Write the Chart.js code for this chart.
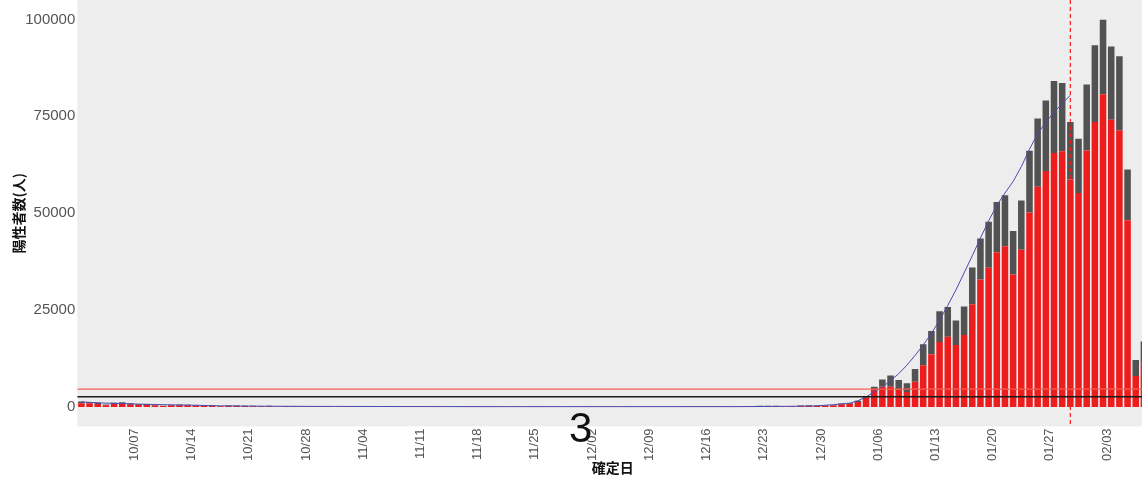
<!DOCTYPE html>
<html><head><meta charset="utf-8">
<script src="https://cdn.jsdelivr.net/npm/chart.js@4.4.1/dist/chart.umd.min.js"></script>
<style>
html,body{margin:0;padding:0;background:#fff;overflow:hidden;width:1142px;height:484px;}
#wrap{position:absolute;left:0;top:0;width:1148px;height:484px;}
#pg{position:absolute;left:569px;top:407px;font:42px/1 "Liberation Sans",Arial,sans-serif;color:#111;}
</style></head><body>
<div id="wrap"><canvas id="c"></canvas></div>
<div id="pg">3</div>
<script>
// ---- categories: months covered (month, number of days shown) ----
const MONTHS = [[10,31],[11,30],[12,31],[1,31],[2,8]];
const X_TICK_LABELS = ['10/07','10/14','10/21','10/28','11/04','11/11','11/18','11/25','12/02','12/09','12/16','12/23','12/30','01/06','01/13','01/20','01/27','02/03'];
const Y_TICKS = [0,25000,50000,75000,100000];
const X_TITLE = '確定日';
const Y_TITLE = '陽性者数(人)';

// ---- total positives per day (red + gray) ----
const TOTAL_OCT = [1400,1300,1100,650,1100,1250,1000,800,750,500,350,600,650,600,500,480,430,240,380,380,340,320,290,300,160,240,290,290,270,270,250];
const TOTAL_NOV = [90,160,220,160,200,200,160,100,140,200,190,200,180,160,80,130,170,180,160,150,150,80,120,100,120,140,140,120,80,130];
const TOTAL_DEC = [100,130,120,130,130,70,120,140,160,140,150,140,100,170,180,180,170,180,170,120,200,250,300,300,300,200,250,400,450,400,450];
const TOTAL_JAN = [500,900,1000,1600,2800,5200,7100,8100,7000,6100,9800,16200,19600,24700,25800,22300,25900,36000,43500,47800,52900,54600,45400,53300,66100,74400,79100,84100,83600,73500,69200];
const TOTAL_FEB = [83200,93300,99900,93000,90500,61300,12100,16900];

// ---- red (lower) part per day ----
const RED_OCT = [1000,950,800,480,800,900,720,580,540,360,250,430,470,430,360,350,310,170,270,270,240,230,210,220,120,170,210,210,190,190,180];
const RED_NOV = [60,110,150,110,140,140,110,70,100,140,130,140,130,110,60,90,120,130,110,100,100,60,80,70,80,100,100,80,60,90];
const RED_DEC = [70,90,80,90,90,50,80,100,110,100,100,100,70,120,130,130,120,130,120,80,140,180,210,210,210,140,180,290,320,290,330];
const RED_JAN = [380,700,800,1300,2400,4600,5300,5200,4600,3900,6500,10800,13600,16800,18100,16000,18600,26500,32900,35900,39900,41500,34200,40600,50200,56800,60900,65500,66000,58700,55200];
const RED_FEB = [66200,73500,80700,74100,71400,48200,8000,11300];

// ---- fitted curve (blue), up to 01/30 ----
const FIT_OCT = [1300,1200,1100,1000,950,900,800,750,700,650,600,550,500,500,450,400,350,300,300,250,250,230,220,210,200,190,180,170,160,160,150];
const FIT_NOV = [150,150,140,140,140,130,130,130,120,120,120,120,110,110,110,110,100,100,100,100,100,100,100,100,100,100,100,100,100,100];
const FIT_DEC = [100,100,100,100,100,100,100,100,100,100,100,100,100,100,100,100,100,100,100,100,110,120,130,140,150,170,190,220,260,300,450];
const FIT_JAN = [600,800,1000,1600,2600,3900,5200,6800,8600,10800,13300,16000,19000,22400,26200,30200,34600,39000,43600,48000,52000,55200,58200,62000,66500,70500,73500,76000,78300,80400];

// ---- reference lines ----
const HLINE_RED = 4600;
const HLINE_BLACK = 2650;
const VLINE_DATE = '01/30';

// build tables
const LABELS = [];
MONTHS.forEach(([m,n]) => { for (let d=1; d<=n; d++) LABELS.push(String(m).padStart(2,'0')+'/'+String(d).padStart(2,'0')); });
const TOTAL = [].concat(TOTAL_OCT,TOTAL_NOV,TOTAL_DEC,TOTAL_JAN,TOTAL_FEB);
const RED = [].concat(RED_OCT,RED_NOV,RED_DEC,RED_JAN,RED_FEB);
const GRAY = TOTAL.map((t,i)=>t-RED[i]);
const FIT = [].concat(FIT_OCT,FIT_NOV,FIT_DEC,FIT_JAN);
while (FIT.length < LABELS.length) FIT.push(null);

const TICK_FONT = '"Liberation Sans", Arial, sans-serif';
const CJK_FONT = '"Noto Sans CJK JP", "Noto Sans", sans-serif';

const panelBg = {
  id:'panelBg',
  beforeDraw(chart){
    const {ctx, chartArea:a} = chart;
    ctx.save(); ctx.fillStyle = '#ededee';
    ctx.fillRect(a.left, a.top, a.right-a.left, a.bottom-a.top);
    ctx.restore();
  }
};
const refLines = {
  id:'refLines',
  afterDatasetsDraw(chart){
    const {ctx, chartArea:a, scales:{x,y}} = chart;
    ctx.save();
    ctx.beginPath(); ctx.rect(a.left,a.top,a.right-a.left,a.bottom-a.top); ctx.clip();
    const yr = y.getPixelForValue(HLINE_RED);
    ctx.strokeStyle = '#f0604e'; ctx.lineWidth = 1.2;
    ctx.beginPath(); ctx.moveTo(a.left, yr); ctx.lineTo(a.right, yr); ctx.stroke();
    const yb = y.getPixelForValue(HLINE_BLACK);
    ctx.strokeStyle = '#1a1a1a'; ctx.lineWidth = 1.5;
    ctx.beginPath(); ctx.moveTo(a.left, yb); ctx.lineTo(a.right, yb); ctx.stroke();
    const xv = x.getPixelForValue(LABELS.indexOf(VLINE_DATE));
    ctx.strokeStyle = '#ee2020'; ctx.lineWidth = 1.2; ctx.setLineDash([4,3]);
    ctx.beginPath(); ctx.moveTo(xv, a.top); ctx.lineTo(xv, a.bottom); ctx.stroke();
    ctx.restore();
  }
};

new Chart(document.getElementById('c'), {
  type:'bar',
  data:{
    labels: LABELS,
    datasets:[
      {type:'line', data:FIT, borderColor:'#4b4bb0', borderWidth:1, pointRadius:0, tension:0, spanGaps:false, order:-1, stack:'fit'},
      {data:RED, backgroundColor:'#ee1d1d', borderWidth:0, barPercentage:0.8, categoryPercentage:1, stack:'bars', order:0},
      {data:GRAY, backgroundColor:'#525252', borderWidth:0, barPercentage:0.8, categoryPercentage:1, stack:'bars', order:0}
    ]
  },
  options:{
    responsive:true, maintainAspectRatio:false, animation:false,
    layout:{padding:0},
    plugins:{legend:{display:false}, tooltip:{enabled:false}},
    scales:{
      x:{
        type:'category', stacked:true, offset:true,
        grid:{display:false, drawTicks:false}, border:{display:false},
        ticks:{autoSkip:false, maxRotation:90, minRotation:90, padding:2, labelOffset:4, color:'#555',
          font:{family:TICK_FONT, size:13},
          callback:function(v){ const l = this.getLabelForValue(v); return X_TICK_LABELS.includes(l) ? l : ''; }},
        title:{display:true, text:X_TITLE, color:'#111', font:{family:CJK_FONT, size:14, weight:'bold'}, padding:{top:0, bottom:8}},
        afterFit:(s)=>{ s.height = 57.6; s.paddingLeft = 0; s.paddingRight = 0; }
      },
      y:{
        stacked:true, min:-5000, max:105000,
        afterBuildTicks:(s)=>{ s.ticks = Y_TICKS.map(v=>({value:v})); },
        grid:{display:false, drawTicks:false}, border:{display:false},
        ticks:{color:'#555', padding:2, font:{family:TICK_FONT, size:15}, callback:(v)=>String(v)},
        title:{display:true, text:Y_TITLE, color:'#111', font:{family:CJK_FONT, size:14, weight:'bold'}, padding:{top:10, bottom:0}},
        afterFit:(s)=>{ s.width = 77.3; s.paddingTop = 0; s.paddingBottom = 0; }
      }
    }
  },
  plugins:[panelBg, refLines]
});
</script>
</body></html>
